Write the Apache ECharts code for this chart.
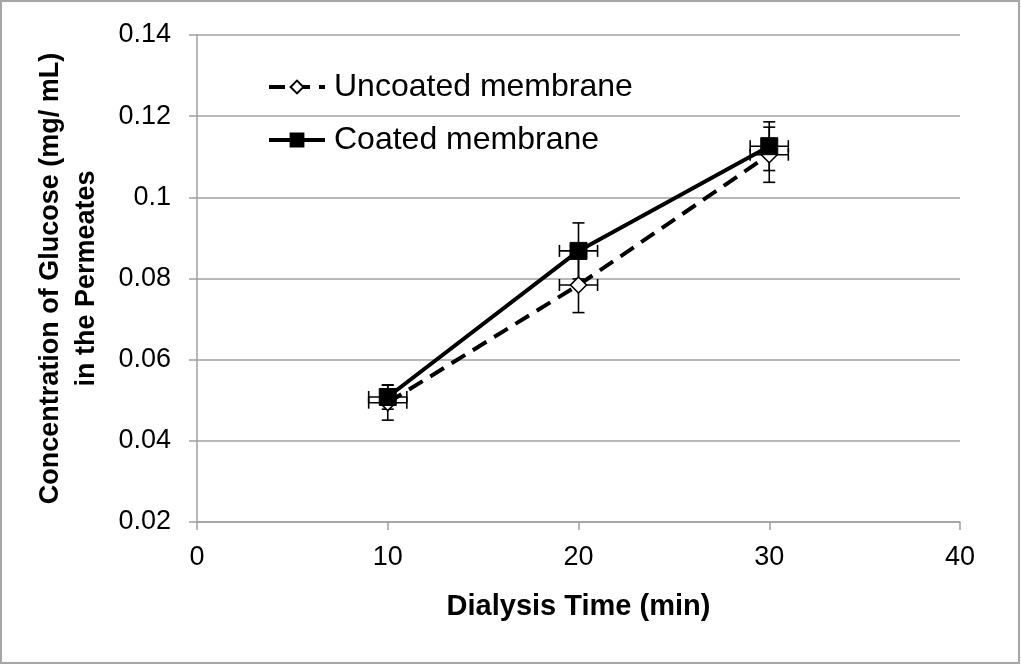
<!DOCTYPE html>
<html>
<head>
<meta charset="utf-8">
<script src="https://cdn.jsdelivr.net/npm/echarts@6/dist/echarts.min.js"></script>
<style>
  html, body { margin: 0; padding: 0; background: #fff; }
  #chart { width: 1021px; height: 665px; }
</style>
</head>
<body>
<div id="chart"></div>
<script>
// dialysis time (min)
const times = [10, 20, 30];
const timeErr = [1, 1, 1];

// glucose concentration (mg/mL)
const uncoated = [0.0494, 0.0784, 0.1105];
const uncoatedErr = [0.0043, 0.0068, 0.0068];
const coated = [0.0508, 0.0868, 0.1126];
const coatedErr = [0.003, 0.0069, 0.006];

const xTicks = [0, 40, 10];        // min, max, interval
const yTicks = [0.02, 0.14, 0.02]; // min, max, interval

const font = "'Liberation Sans', Arial, sans-serif";

function errRows(ys, yErr) {
    return times.map((t, i) => [t, ys[i], timeErr[i], yErr[i]]);
}

function renderErr(params, api) {
    const x = api.value(0), y = api.value(1);
    const dx = api.value(2), dy = api.value(3);
    const c = api.coord([x, y]);
    const top = api.coord([x, y + dy]);
    const bot = api.coord([x, y - dy]);
    const lft = api.coord([x - dx, y]);
    const rgt = api.coord([x + dx, y]);
    const cap = 6;
    const style = { stroke: '#000', lineWidth: 1.6 };
    const seg = (x1, y1, x2, y2) => ({ type: 'line', shape: { x1, y1, x2, y2 }, style });
    return {
        type: 'group',
        children: [
            seg(c[0], top[1], c[0], bot[1]),
            seg(c[0] - cap, top[1], c[0] + cap, top[1]),
            seg(c[0] - cap, bot[1], c[0] + cap, bot[1]),
            seg(lft[0], c[1], rgt[0], c[1]),
            seg(lft[0], c[1] - cap, lft[0], c[1] + cap),
            seg(rgt[0], c[1] - cap, rgt[0], c[1] + cap)
        ]
    };
}

const chart = echarts.init(document.getElementById('chart'));
chart.setOption({
    animation: false,
    textStyle: { fontFamily: font },
    graphic: [{
        type: 'rect',
        shape: { x: 1, y: 1, width: 1018, height: 662 },
        style: { fill: 'none', stroke: '#a6a6a6', lineWidth: 2 }
    }],
    grid: { left: 197, right: 61, top: 35, bottom: 143 },
    legend: {
        orient: 'vertical',
        left: 262,
        top: 66,
        itemWidth: 56,
        itemHeight: 16,
        itemGap: 21,
        lineStyle: { width: 4 },
        textStyle: { fontSize: 32, color: '#000', fontFamily: font, padding: [0, 0, 0, 4] },
        data: ['Uncoated membrane', 'Coated membrane']
    },
    xAxis: {
        type: 'value',
        min: xTicks[0], max: xTicks[1], interval: xTicks[2],
        name: 'Dialysis Time (min)',
        nameLocation: 'middle',
        nameGap: 70,
        nameTextStyle: { fontSize: 29, fontWeight: 'bold', color: '#000', fontFamily: font },
        axisLine: { lineStyle: { color: '#a0a0a0', width: 1.5 } },
        axisTick: { show: true, length: 8, lineStyle: { color: '#a0a0a0', width: 1.5 } },
        axisLabel: { fontSize: 27, color: '#000', margin: 22 },
        splitLine: { show: false }
    },
    yAxis: {
        type: 'value',
        min: yTicks[0], max: yTicks[1], interval: yTicks[2],
        name: 'Concentration of Glucose (mg/ mL)\nin the Permeates',
        nameLocation: 'middle',
        nameGap: 92,
        nameTextStyle: { fontSize: 27, fontWeight: 'bold', color: '#000', lineHeight: 36, fontFamily: font },
        axisLine: { show: true, lineStyle: { color: '#a0a0a0', width: 1.5 } },
        axisTick: { show: true, length: 8, lineStyle: { color: '#a0a0a0', width: 1.5 } },
        axisLabel: { fontSize: 27, color: '#000', margin: 26 },
        splitLine: { show: true, lineStyle: { color: '#a0a0a0', width: 1.5 } }
    },
    series: [
        {
            name: 'Uncoated err',
            type: 'custom',
            renderItem: renderErr,
            data: errRows(uncoated, uncoatedErr),
            z: 1,
            silent: true
        },
        {
            name: 'Coated err',
            type: 'custom',
            renderItem: renderErr,
            data: errRows(coated, coatedErr),
            z: 1,
            silent: true
        },
        {
            name: 'Uncoated membrane',
            type: 'line',
            data: times.map((t, i) => [t, uncoated[i]]),
            symbol: 'diamond',
            symbolSize: 16,
            showAllSymbol: true,
            itemStyle: { color: '#fff', borderColor: '#000', borderWidth: 1.6 },
            lineStyle: { color: '#000', width: 4, type: [16, 9] },
            z: 3
        },
        {
            name: 'Coated membrane',
            type: 'line',
            data: times.map((t, i) => [t, coated[i]]),
            symbol: 'rect',
            symbolSize: 17,
            itemStyle: { color: '#000', borderColor: '#000', borderWidth: 1 },
            lineStyle: { color: '#000', width: 4 },
            z: 4
        }
    ]
});
</script>
</body>
</html>
